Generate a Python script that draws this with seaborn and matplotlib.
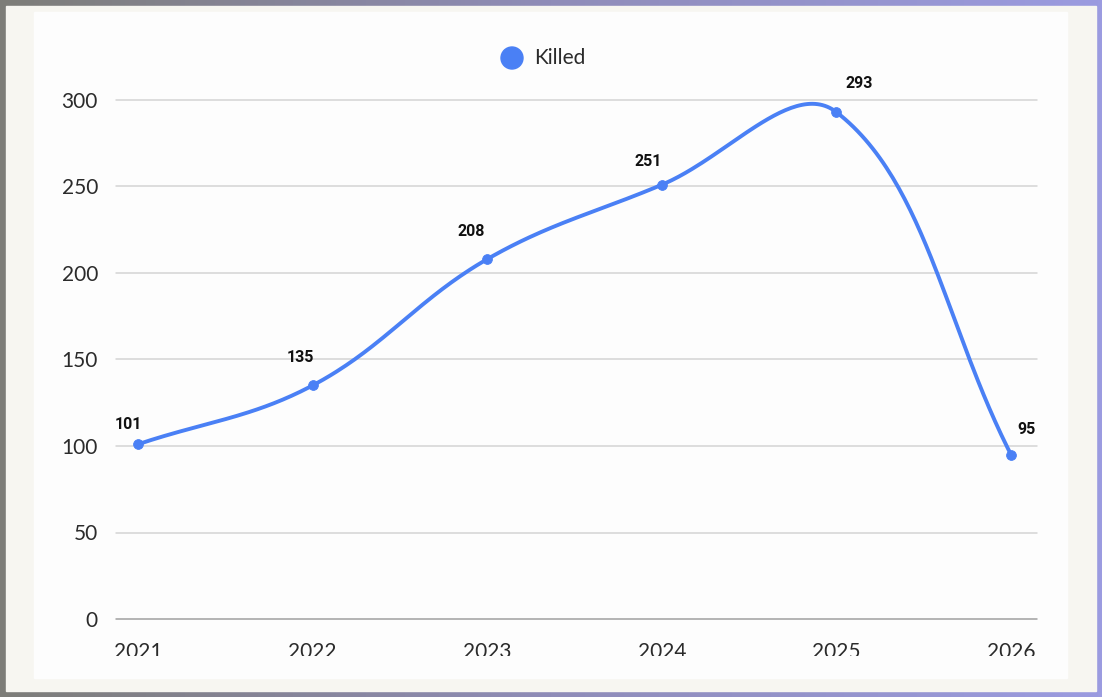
import numpy as np
import pandas as pd
import seaborn as sns
from matplotlib import pyplot as plt
from matplotlib.patches import Rectangle, Circle
from matplotlib.colors import LinearSegmentedColormap
from matplotlib.transforms import Bbox, TransformedBbox

years = [2021, 2022, 2023, 2024, 2025, 2026]
killed = [101, 135, 208, 251, 293, 95]
series_name = "Killed"
y_ticks = [0, 50, 100, 150, 200, 250, 300]

line_color = "#4a80f5"
text_color = "#2b2b2b"
# pixel offsets of the value labels (dx, dy)
label_offsets = [(-10, 20), (-12, 28), (-16, 28), (-14, 23), (23, 29), (16, 25)]

W, H = 1102, 697
sns.set_theme(style="white")
plt.rcParams["font.family"] = ["Lato", "DejaVu Sans"]

fig = plt.figure(figsize=(W / 100, H / 100), dpi=100)

# background: gradient frame, cream area, white panel
bg = fig.add_axes([0, 0, 1, 1], zorder=-10)
grad = np.linspace(0, 1, 256).reshape(1, -1)
cmap = LinearSegmentedColormap.from_list("frame", ["#7d7d78", "#8f8cb8", "#9b9be0"])
bg.imshow(grad, aspect="auto", cmap=cmap, extent=[0, W, 0, H])
bg.add_patch(Rectangle((6, 6), W - 12, H - 12, color="#f7f6f1"))
bg.add_patch(Rectangle((34, H - 678), 1067 - 34, 678 - 12, color="#fdfdfd"))
bg.set_xlim(0, W)
bg.set_ylim(0, H)
bg.axis("off")

ax = fig.add_axes([116 / W, (H - 619) / H, 921 / W, 519 / H])
ax.set_facecolor("none")

# Chart.js style smoothing (tension 0.4), computed in pixel space
px_x = 174.6
px_y = 519 / 300
P = np.array([[x * px_x, y * px_y] for x, y in zip(years, killed)], dtype=float)
t = 0.38
n = len(P)
cp_prev = np.zeros_like(P)
cp_next = np.zeros_like(P)
for i in range(n):
    prev = P[max(i - 1, 0)]
    nxt = P[min(i + 1, n - 1)]
    cur = P[i]
    d01 = np.hypot(*(cur - prev))
    d12 = np.hypot(*(nxt - cur))
    tot = d01 + d12
    s01 = d01 / tot if tot else 0
    s12 = d12 / tot if tot else 0
    cp_prev[i] = cur - t * s01 * (nxt - prev)
    cp_next[i] = cur + t * s12 * (nxt - prev)
curve = []
u = np.linspace(0, 1, 60)[:, None]
for i in range(n - 1):
    a, b, c, d = P[i], cp_next[i], cp_prev[i + 1], P[i + 1]
    seg = (1 - u) ** 3 * a + 3 * (1 - u) ** 2 * u * b + 3 * (1 - u) * u ** 2 * c + u ** 3 * d
    curve.append(seg)
curve = np.vstack(curve)
smooth = pd.DataFrame({"year": curve[:, 0] / px_x, "value": curve[:, 1] / px_y})

for yt in y_ticks:
    ax.axhline(yt, color="#a0a0a0" if yt == 0 else "#d4d4d4", lw=1.1, zorder=0, clip_on=False)

sns.lineplot(data=smooth, x="year", y="value", sort=False, color=line_color,
             lw=2.8, ax=ax, zorder=3)
sns.scatterplot(x=years, y=killed, color=line_color, s=50, edgecolor=line_color,
                ax=ax, zorder=4)

for x, y, (dx, dy) in zip(years, killed, label_offsets):
    ax.annotate(str(y), (x, y), xytext=(dx * 0.72, dy * 0.72), textcoords="offset points",
                ha="center", va="center", fontsize=11.5, fontweight="bold",
                family=["Roboto", "DejaVu Sans"], color="#111111", annotation_clip=False)

ax.set_xlim(2021 - 22 / px_x, 2026 + 26 / px_x)
ax.set_ylim(0, 300)
ax.set_xticks(years)
ax.set_xticklabels([])
ax.set_yticks(y_ticks)
ax.tick_params(axis="both", length=0, labelsize=15, labelcolor=text_color)
ax.tick_params(axis="y", pad=13)
for s in ax.spines.values():
    s.set_visible(False)
ax.set_xlabel("")
ax.set_ylabel("")

# x labels are cut off at the bottom of the plot area
clip = TransformedBbox(Bbox.from_extents(0, H - 656, W, H), bg.transData)
for x in years:
    lbl = ax.annotate(str(x), (x, 0), xycoords=("data", "axes fraction"),
                      xytext=(0, -16.5), textcoords="offset points",
                      ha="center", va="top", fontsize=15,
                      color=text_color, annotation_clip=False)
    lbl.set_clip_on(True)
    lbl.set_clip_box(clip)

# legend
bg.add_patch(Circle((512, H - 58), 11, color=line_color))
bg.text(534, H - 58, series_name, fontsize=15,
        va="center", ha="left", color=text_color)

fig.savefig("out.png", dpi=100)
